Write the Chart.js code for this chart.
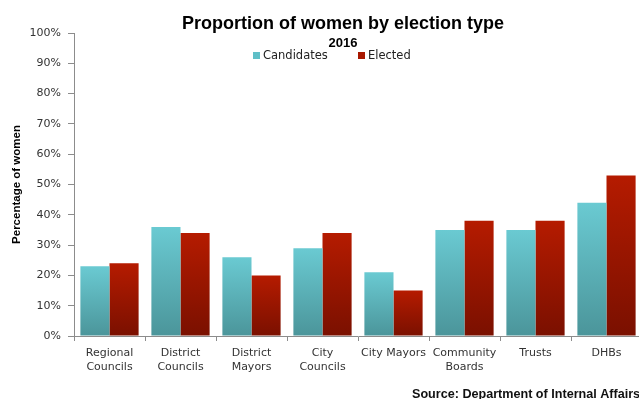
<!DOCTYPE html>
<html><head><meta charset="utf-8">
<script src="https://cdn.jsdelivr.net/npm/chart.js@4"></script>
<style>
html,body{margin:0;padding:0;background:#fff;overflow:hidden;width:639px;height:399px;}
#wrap{position:relative;width:660px;height:399px;}
</style></head>
<body><div id="wrap"><canvas id="c" width="660" height="399"></canvas></div>
<script>
const categories = [["Regional","Councils"],["District","Councils"],["District","Mayors"],["City","Councils"],"City Mayors",["Community","Boards"],"Trusts","DHBs"];
const candidates = [23,36,26,29,21,35,35,44];
const elected = [24,34,20,34,15,38,38,53];
const seriesNames = ["Candidates","Elected"];
const titleText = "Proportion of women by election type";
const subtitleText = "2016";
const yAxisTitle = "Percentage of women";
const sourceText = "Source: Department of Internal Affairs";

const FONT = "'DejaVu Sans', sans-serif";
const TFONT = "'Liberation Sans', Arial, sans-serif";

function grad(top, bottom){
  return function(ctx){
    const chart = ctx.chart;
    const area = chart.chartArea;
    if(!area || ctx.type !== 'data') return top;
    const y = chart.scales.y;
    const yt = y.getPixelForValue(ctx.raw);
    const yb = y.getPixelForValue(0);
    const g = chart.ctx.createLinearGradient(0, yt, 0, yb);
    g.addColorStop(0, top);
    g.addColorStop(1, bottom);
    return g;
  };
}
const solid = ["#5fbfc7","#a81800"];

const deco = {
  id:'deco',
  afterDraw(chart){
    const c = chart.ctx;
    c.save();
    c.fillStyle = '#000';
    c.textAlign = 'center';
    c.textBaseline = 'middle';
    c.font = "bold 18px " + TFONT;
    c.fillText(titleText, 343, 24);
    c.font = "bold 13px " + TFONT;
    c.fillText(subtitleText, 343, 43);
    // legend
    c.font = "11.5px " + FONT;
    c.textAlign = 'left';
    const items = [[253, seriesNames[0], solid[0]],[358, seriesNames[1], solid[1]]];
    items.forEach(([x, label, col])=>{
      c.fillStyle = col;
      c.fillRect(x, 52, 7, 7);
      c.fillStyle = '#222';
      c.fillText(label, x + 10, 56);
    });
    c.font = "bold 12.6px " + TFONT;
    c.fillStyle = '#111';
    c.fillText(sourceText, 412, 395);
    c.restore();
  }
};

new Chart(document.getElementById('c'), {
  type:'bar',
  data:{
    labels: categories,
    datasets:[
      {label:seriesNames[0], data:candidates, backgroundColor:grad('#6acad2','#4b959a'), borderWidth:0},
      {label:seriesNames[1], data:elected, backgroundColor:grad('#b51b00','#7a1000'), borderWidth:0}
    ]
  },
  options:{
    responsive:false,
    animation:false,
    devicePixelRatio:1,
    layout:{padding:{left:0,right:18,top:33,bottom:0}},
    plugins:{legend:{display:false}, title:{display:false}, tooltip:{enabled:false}},
    datasets:{bar:{categoryPercentage:0.82, barPercentage:1}},
    scales:{
      x:{
        grid:{display:true, drawOnChartArea:false, drawTicks:true, tickLength:5, color:'#8c8c8c', offset:true},
        border:{color:'#8c8c8c', width:1},
        ticks:{font:{family:FONT, size:11}, color:'#333', padding:6, maxRotation:0, autoSkip:false},
        afterFit(s){ s.height = 63; }
      },
      y:{
        min:0, max:100,
        grid:{display:true, drawOnChartArea:false, drawTicks:true, tickLength:6, color:'#8c8c8c'},
        border:{color:'#8c8c8c', width:1},
        ticks:{stepSize:10, font:{family:FONT, size:11}, color:'#333', padding:7, callback:v=>v+'%'},
        title:{display:true, text:yAxisTitle, font:{family:TFONT, size:11.5, weight:'bold'}, color:'#000', padding:{top:10,bottom:0}},
        afterFit(s){ s.width = 74; }
      }
    }
  },
  plugins:[deco]
});
</script></body></html>
